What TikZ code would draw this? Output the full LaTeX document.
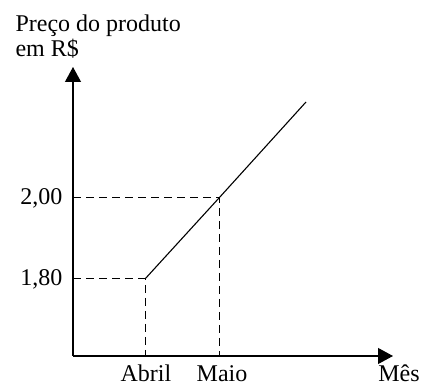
\documentclass[tikz,border=0pt]{standalone}
\usepackage{fontspec}
\setmainfont{Liberation Serif}
\usetikzlibrary{arrows.meta}

\begin{document}
\begin{tikzpicture}[x=1pt,y=1pt,line width=1.1pt,
    eixo/.style={-{Triangle[length=15pt,width=16pt]}},
    tracado/.style={dash pattern=on 8pt off 5pt,line width=1pt},
    rotulo/.style={font=\fontsize{24}{24.5}\selectfont,inner sep=0pt}]
            \useasboundingbox (0,0) rectangle (421,387);
            \coordinate (O) at (73,31);
            \coordinate (topoY) at (73,320);
            \coordinate (fimX) at (393,31);
            \coordinate (abr) at (145,108);
            \coordinate (mai) at (219,189);
            \coordinate (fim) at (306,285);
            \draw[eixo] (O) -- (topoY);
            \draw[eixo] (O) -- (fimX);
            \draw (abr) -- (mai) -- (fim);
            \draw[tracado] (abr -| O) -- (abr) -- (abr |- O);
            \draw[tracado] (mai -| O) -- (mai) -- (mai |- O);
            \node[rotulo,anchor=base west,align=left] (titulo) at (15,330.5) {Preço do produto\\em R\$};
            \node[rotulo,anchor=east] (v200) at (63,189) {2,00};
            \node[rotulo,anchor=east] (v180) at (63,108) {1,80};
            \node[rotulo,anchor=base] (abril) at (146,5.5) {Abril};
            \node[rotulo,anchor=base] (maio) at (222,5.5) {Maio};
            \node[rotulo,anchor=base] (mes) at (399,5.5) {Mês};
        \end{tikzpicture}
\end{document}
